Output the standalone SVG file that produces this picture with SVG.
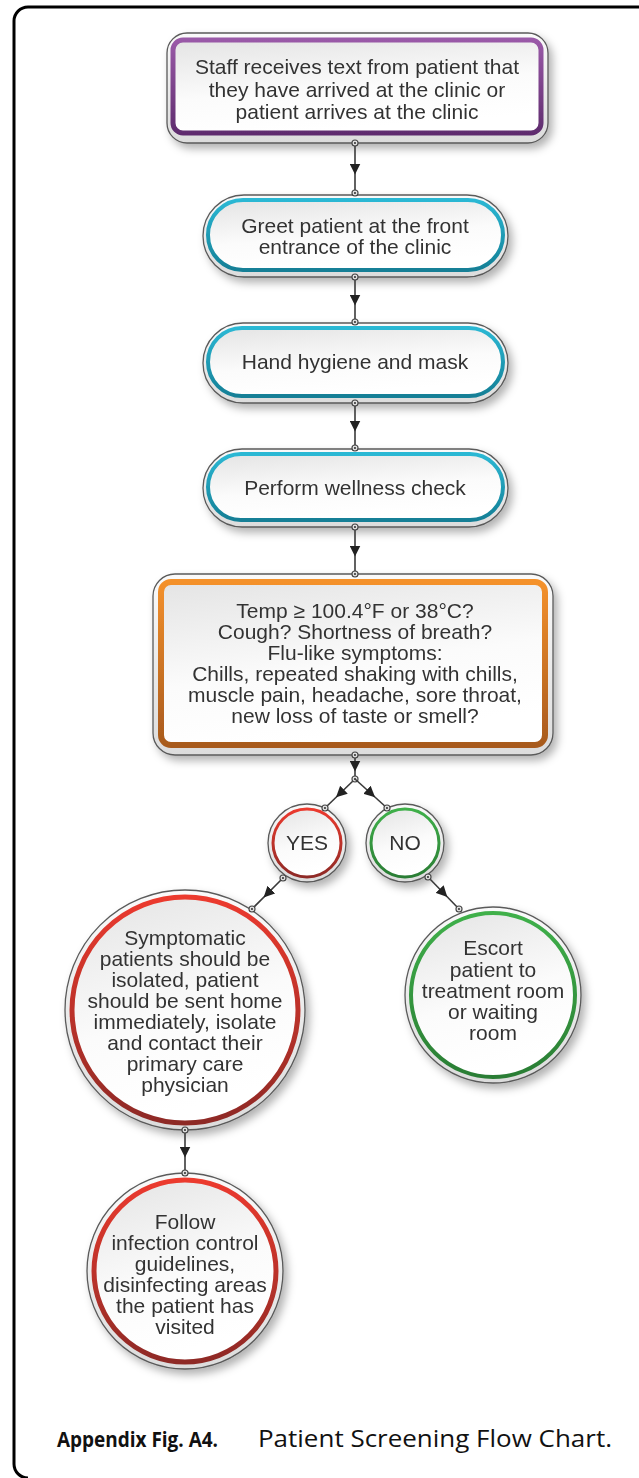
<svg xmlns="http://www.w3.org/2000/svg" width="639" height="1478" viewBox="0 0 639 1478">
<style>
.t{font-family:"Liberation Sans",Arial,sans-serif;font-size:21px;fill:#333;text-anchor:middle}
.rim{fill:url(#rimg);stroke:#5a5a5a;stroke-width:1.3}
.in{fill:url(#ing)}
.conn{fill:none;stroke:#3a3a3a;stroke-width:1.6;marker-start:url(#dot);marker-mid:url(#arr);marker-end:url(#dot)}
.cap{font-family:"Open Sans","Noto Sans",sans-serif;fill:#111}
</style>
<defs>
<linearGradient id="rimg" x1="0" y1="0" x2="0" y2="1"><stop offset="0" stop-color="#fafafa"/><stop offset="1" stop-color="#dcdcdc"/></linearGradient>
<linearGradient id="ing" x1="0" y1="0" x2="0.3" y2="1"><stop offset="0" stop-color="#e4e4e4"/><stop offset="0.6" stop-color="#fbfbfb"/><stop offset="1" stop-color="#ffffff"/></linearGradient>
<linearGradient id="pur" x1="0" y1="0" x2="0" y2="1"><stop offset="0" stop-color="#9a5aa8"/><stop offset="1" stop-color="#5f2c6e"/></linearGradient>
<linearGradient id="cya" x1="0" y1="0" x2="0" y2="1"><stop offset="0" stop-color="#2cb8d4"/><stop offset="1" stop-color="#137f96"/></linearGradient>
<linearGradient id="ora" x1="0" y1="0" x2="0" y2="1"><stop offset="0" stop-color="#f4912c"/><stop offset="1" stop-color="#a85a1e"/></linearGradient>
<linearGradient id="red" x1="0" y1="0" x2="0" y2="1"><stop offset="0" stop-color="#ec3a2e"/><stop offset="1" stop-color="#8e2a26"/></linearGradient>
<linearGradient id="grn" x1="0" y1="0" x2="0" y2="1"><stop offset="0" stop-color="#3fb04a"/><stop offset="1" stop-color="#2a7d34"/></linearGradient>
<filter id="sh" x="-20%" y="-20%" width="150%" height="150%"><feDropShadow dx="4" dy="5" stdDeviation="4" flood-color="#000" flood-opacity="0.3"/></filter>
<marker id="arr" viewBox="0 0 10 10" refX="5" refY="5" markerWidth="11" markerHeight="11" markerUnits="userSpaceOnUse" orient="auto"><path d="M0,0 L10,5 L0,10 z" fill="#222"/></marker>
<marker id="dot" viewBox="0 0 10 10" refX="5" refY="5" markerWidth="8" markerHeight="8" markerUnits="userSpaceOnUse"><circle cx="5" cy="5" r="3.8" fill="#e0e0e0" stroke="#444" stroke-width="1.4"/><circle cx="5" cy="5" r="1.3" fill="#333"/></marker>
</defs>
<rect width="639" height="1478" fill="#fff"/>
<path d="M640 7 H28 A14 14 0 0 0 14 21 V1464 A14 14 0 0 0 28 1478" fill="none" stroke="#000" stroke-width="3"/>

<g id="n1" filter="url(#sh)">
<rect class="rim" x="167" y="33" width="381" height="110" rx="20"/>
<rect class="in" x="173" y="40" width="368" height="93" rx="10" stroke="url(#pur)" stroke-width="5"/>
<text class="t" x="357" y="74">Staff receives text from patient that</text>
<text class="t" x="357" y="97">they have arrived at the clinic or</text>
<text class="t" x="357" y="119">patient arrives at the clinic</text>
</g>
<g id="n2" filter="url(#sh)">
<rect class="rim" x="203" y="195" width="305" height="82" rx="41"/>
<rect class="in" x="208" y="200" width="295" height="70" rx="35" stroke="url(#cya)" stroke-width="4"/>
<text class="t" x="355" y="233">Greet patient at the front</text>
<text class="t" x="355" y="254">entrance of the clinic</text>
</g>
<g id="n3" filter="url(#sh)">
<rect class="rim" x="203" y="323" width="305" height="80" rx="40"/>
<rect class="in" x="208" y="328" width="295" height="68" rx="34" stroke="url(#cya)" stroke-width="4"/>
<text class="t" x="355" y="369">Hand hygiene and mask</text>
</g>
<g id="n4" filter="url(#sh)">
<rect class="rim" x="203" y="449" width="305" height="78" rx="39"/>
<rect class="in" x="208" y="454" width="295" height="66" rx="33" stroke="url(#cya)" stroke-width="4"/>
<text class="t" x="355" y="495">Perform wellness check</text>
</g>
<g id="n5" filter="url(#sh)">
<rect class="rim" x="153" y="574" width="400" height="181" rx="22"/>
<rect class="in" x="161" y="582" width="384" height="163" rx="10" stroke="url(#ora)" stroke-width="6"/>
<text class="t" x="355" y="618">Temp ≥ 100.4°F or 38°C?</text>
<text class="t" x="355" y="639">Cough? Shortness of breath?</text>
<text class="t" x="355" y="660">Flu-like symptoms:</text>
<text class="t" x="355" y="681">Chills, repeated shaking with chills,</text>
<text class="t" x="355" y="702">muscle pain, headache, sore throat,</text>
<text class="t" x="355" y="723">new loss of taste or smell?</text>
</g>
<g id="n6" filter="url(#sh)">
<circle class="rim" cx="307" cy="843" r="39"/>
<circle class="in" cx="307" cy="843" r="34" stroke="url(#red)" stroke-width="3"/>
<text class="t" x="307" y="850">YES</text>
</g>
<g id="n7" filter="url(#sh)">
<circle class="rim" cx="405" cy="843" r="39"/>
<circle class="in" cx="405" cy="843" r="34" stroke="url(#grn)" stroke-width="3"/>
<text class="t" x="405" y="850">NO</text>
</g>
<g id="n8" filter="url(#sh)">
<circle class="rim" cx="185" cy="1010" r="120"/>
<circle class="in" cx="185" cy="1010" r="113" stroke="url(#red)" stroke-width="5"/>
<text class="t" x="185" y="945">Symptomatic</text>
<text class="t" x="185" y="966">patients should be</text>
<text class="t" x="185" y="987">isolated, patient</text>
<text class="t" x="185" y="1008">should be sent home</text>
<text class="t" x="185" y="1029">immediately, isolate</text>
<text class="t" x="185" y="1050">and contact their</text>
<text class="t" x="185" y="1071">primary care</text>
<text class="t" x="185" y="1092">physician</text>
</g>
<g id="n9" filter="url(#sh)">
<circle class="rim" cx="493" cy="995" r="88"/>
<circle class="in" cx="493" cy="995" r="82" stroke="url(#grn)" stroke-width="4"/>
<text class="t" x="493" y="955">Escort</text>
<text class="t" x="493" y="977">patient to</text>
<text class="t" x="493" y="998">treatment room</text>
<text class="t" x="493" y="1019">or waiting</text>
<text class="t" x="493" y="1040">room</text>
</g>
<g id="n10" filter="url(#sh)">
<circle class="rim" cx="185" cy="1271" r="98"/>
<circle class="in" cx="185" cy="1271" r="91" stroke="url(#red)" stroke-width="5"/>
<text class="t" x="185" y="1229">Follow</text>
<text class="t" x="185" y="1250">infection control</text>
<text class="t" x="185" y="1271">guidelines,</text>
<text class="t" x="185" y="1292">disinfecting areas</text>
<text class="t" x="185" y="1313">the patient has</text>
<text class="t" x="185" y="1334">visited</text>
</g>

<g id="connectors">
<path class="conn" d="M355 143 L355 169 L355 193"/>
<path class="conn" d="M355 277 L355 300 L355 322"/>
<path class="conn" d="M355 403 L355 426 L355 448"/>
<path class="conn" d="M355 527 L355 551 L355 574"/>
<path class="conn" d="M355 755 L355 766 L355 779" style="marker-end:none"/>
<path class="conn" d="M355 779 L340 793.5 L325 808"/>
<path class="conn" d="M355 779 L371 793.5 L387 808" style="marker-start:none"/>
<path class="conn" d="M283 878 L267.5 893.5 L252 909"/>
<path class="conn" d="M428 877 L443.5 893 L459 909"/>
<path class="conn" d="M185 1130 L185 1152 L185 1173"/>
</g>

<g id="caption">
<text class="cap" x="57" y="1447" font-size="22" font-weight="bold" textLength="161" lengthAdjust="spacingAndGlyphs">Appendix Fig. A4.</text>
<text class="cap" x="258" y="1447" font-size="23" textLength="354" lengthAdjust="spacingAndGlyphs">Patient Screening Flow Chart.</text>
</g>
</svg>
